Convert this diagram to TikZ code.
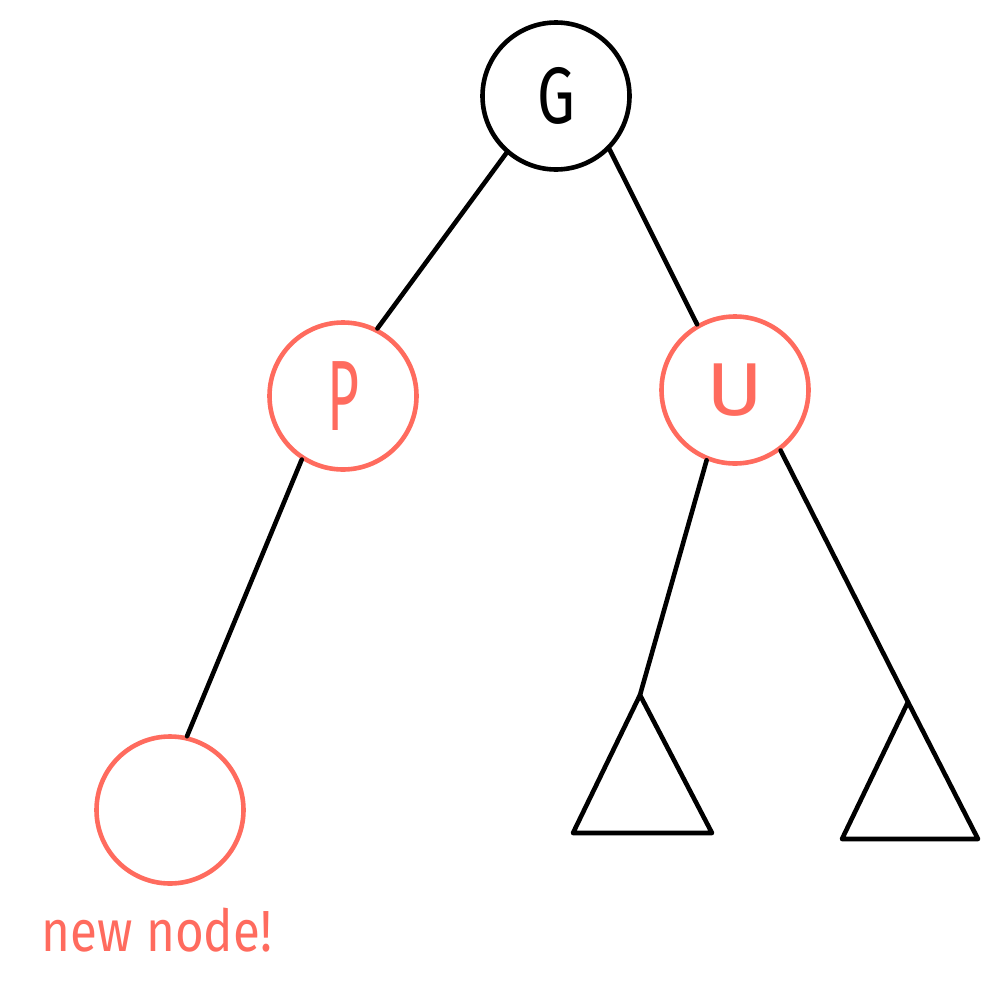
\documentclass[tikz,border=0pt]{standalone}
\usepackage{fontspec}
\setmainfont{Fira Sans}
\definecolor{salmon}{HTML}{FF6B5E}
\begin{document}
\begin{tikzpicture}[x=1pt,y=-1pt, line width=4.6pt,
  nodecirc/.style={circle, draw, minimum size=147pt, inner sep=0pt},
  rednode/.style={nodecirc, draw=salmon, text=salmon},
  blacknode/.style={nodecirc, draw=black, text=black},
  edge/.style={draw=black, line cap=round},
  tri/.style={draw=black, line join=round, line cap=round},
  letter/.style={font=\fontsize{80}{80}\selectfont}]
\useasboundingbox (0,0) rectangle (1000,1004);
\node[blacknode, letter] (G) at (556,96) {\scalebox{0.75}[1]{G}};
\node[rednode, font=\fontsize{100}{100}\selectfont] (P) at (343,396) {\scalebox{0.55}[1]{P}};
\node[rednode, font=\fontsize{75}{75}\selectfont] (U) at (735,390) {\scalebox{1.15}[1]{U}};
\node[rednode] (N) at (170,810) {};
\node[text=salmon, font=\fontsize{58}{58}\selectfont, anchor=center] (lbl) at (157,930) {\scalebox{0.85}[1]{new node!}};
\coordinate (t1) at (640,695);
\coordinate (t2) at (908,702);
\draw[tri] (t1) -- (573,833) -- (712,833) -- cycle;
\draw[tri] (t2) -- (842,839) -- (978,839) -- cycle;
\draw[edge] (G.-131) -- (P.63);
\draw[edge] (G.-45) -- (U.120);
\draw[edge] (P.-123) -- (N.77);
\draw[edge] (U.-112) -- (t1);
\draw[edge] (U.-53) -- (t2);
\end{tikzpicture}
\end{document}
